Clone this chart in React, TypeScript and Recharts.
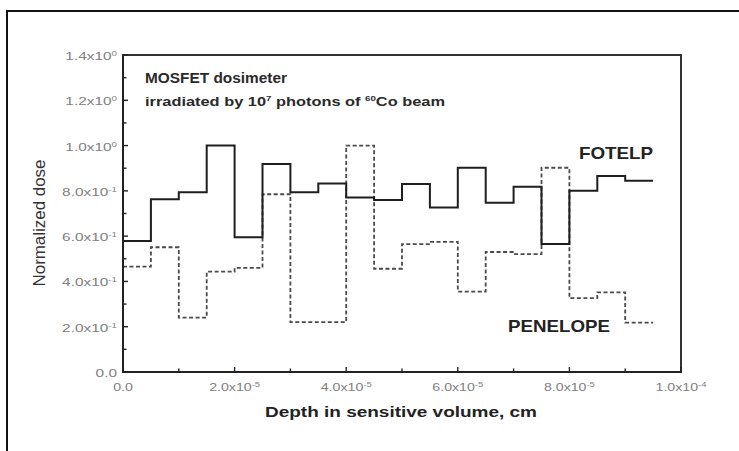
import React from "react";
import { LineChart, Line, XAxis, YAxis, ReferenceArea } from "recharts";

// Bin start depths (cm); the last entry closes the final bin
const depth = [
  0, 0.5e-5, 1.0e-5, 1.5e-5, 2.0e-5, 2.5e-5, 3.0e-5, 3.5e-5, 4.0e-5, 4.5e-5,
  5.0e-5, 5.5e-5, 6.0e-5, 6.5e-5, 7.0e-5, 7.5e-5, 8.0e-5, 8.5e-5, 9.0e-5, 9.5e-5,
];
const fotelp = [
  0.579, 0.763, 0.794, 1.0, 0.595, 0.919, 0.794, 0.832, 0.771, 0.76,
  0.83, 0.726, 0.902, 0.748, 0.818, 0.565, 0.801, 0.866, 0.845, 0.845,
];
const penelope = [
  0.465, 0.551, 0.24, 0.443, 0.46, 0.785, 0.22, 0.22, 1.0, 0.456,
  0.565, 0.575, 0.355, 0.53, 0.521, 0.902, 0.326, 0.352, 0.218, 0.218,
];

const xMajor = [0, 2e-5, 4e-5, 6e-5, 8e-5, 1e-4];
const xMinor = [1e-5, 3e-5, 5e-5, 7e-5, 9e-5];
const xTickBase = ["0.0", "2.0x10", "4.0x10", "6.0x10", "8.0x10", "1.0x10"];
const xTickExp = ["", "-5", "-5", "-5", "-5", "-4"];

const yMajor = [0, 0.2, 0.4, 0.6, 0.8, 1.0, 1.2, 1.4];
const yMinor = [0.1, 0.3, 0.5, 0.7, 0.9, 1.1, 1.3];
const yTickBase = ["0.0", "2.0x10", "4.0x10", "6.0x10", "8.0x10", "1.0x10", "1.2x10", "1.4x10"];
const yTickExp = ["", "-1", "-1", "-1", "-1", "0", "0", "0"];

const data = depth.map((d, i) => ({ x: d, fotelp: fotelp[i], penelope: penelope[i] }));

const FONT = "'Liberation Sans', Arial, Helvetica, sans-serif";
const AXIS = "#222";
const TICKTXT = "#808080";

const findIdx = (arr: number[], v: number) =>
  arr.findIndex((t) => Math.abs(t - v) < 1e-12 + Math.abs(t) * 1e-6);

const YTick = (props: any) => {
  const { x, y, payload } = props;
  const i = findIdx(yMajor, payload.value);
  const major = i >= 0;
  return (
    <g>
      <line x1={x} y1={y} x2={x + (major ? 5 : 3.5)} y2={y} stroke={AXIS} strokeWidth={1.4} />
      {major && (
        <g transform={`translate(${x - 6},${y + 5}) scale(1.4,1)`}>
          <text textAnchor="end" fontSize={11} fill={TICKTXT} fontFamily={FONT}>
            {yTickBase[i]}
            {yTickExp[i] && (
              <tspan fontSize={7} dy={-4}>
                {yTickExp[i]}
              </tspan>
            )}
          </text>
        </g>
      )}
    </g>
  );
};

const XTick = (props: any) => {
  const { x, y, payload } = props;
  const i = findIdx(xMajor, payload.value);
  const major = i >= 0;
  return (
    <g>
      <line x1={x} y1={y} x2={x} y2={y - (major ? 5 : 3.5)} stroke={AXIS} strokeWidth={1.4} />
      {major && (
        <g transform={`translate(${x},${y + 19}) scale(1.35,1)`}>
          <text textAnchor="middle" fontSize={10.5} fill={TICKTXT} fontFamily={FONT}>
            {xTickBase[i]}
            {xTickExp[i] && (
              <tspan fontSize={7} dy={-4}>
                {xTickExp[i]}
              </tspan>
            )}
          </text>
        </g>
      )}
    </g>
  );
};

export default function App() {
  return (
    <div
      style={{
        position: "fixed",
        left: 0,
        top: 0,
        width: 739,
        height: 451,
        background: "#fff",
        fontFamily: FONT,
      }}
    >
      <div
        style={{
          position: "absolute",
          left: 6,
          top: 10,
          width: 739,
          height: 451,
          borderTop: "2px solid #111",
          borderLeft: "2px solid #111",
        }}
      />
      <div style={{ position: "absolute", left: 0, top: 0 }}>
        <LineChart
          width={739}
          height={451}
          data={data}
          margin={{ top: 55, right: 58, bottom: 49, left: 63 }}
        >
          <ReferenceArea
            x1={0}
            x2={1e-4}
            y1={0}
            y2={1.4}
            fill="none"
            fillOpacity={0}
            stroke="#333"
            strokeOpacity={1}
            strokeWidth={2}
          />
          <XAxis
            dataKey="x"
            type="number"
            domain={[0, 1e-4]}
            ticks={[...xMajor, ...xMinor]}
            interval={0}
            tickSize={0}
            tickMargin={0}
            height={30}
            axisLine={{ stroke: AXIS, strokeWidth: 2 }}
            tickLine={false}
            tick={XTick}
          />
          <YAxis
            type="number"
            domain={[0, 1.4]}
            ticks={[...yMajor, ...yMinor]}
            interval={0}
            tickSize={0}
            tickMargin={0}
            width={60}
            axisLine={{ stroke: AXIS, strokeWidth: 2 }}
            tickLine={false}
            tick={YTick}
          />
          <Line
            type="stepAfter"
            dataKey="penelope"
            stroke="#4a4a4a"
            strokeWidth={1.8}
            strokeDasharray="4 2.5"
            dot={false}
            isAnimationActive={false}
          />
          <Line
            type="stepAfter"
            dataKey="fotelp"
            stroke="#1e1e1e"
            strokeWidth={2}
            dot={false}
            isAnimationActive={false}
          />
        </LineChart>
      </div>
      <svg
        width={739}
        height={451}
        style={{ position: "absolute", left: 0, top: 0, pointerEvents: "none" }}
        fontFamily={FONT}
      >
        <text x={145} y={83} fontSize={14.5} fontWeight="bold" fill="#2a2a2a" textLength={142} lengthAdjust="spacingAndGlyphs">
          MOSFET dosimeter
        </text>
        <text x={145} y={106} fontSize={13.5} fontWeight="bold" fill="#2a2a2a" textLength={300} lengthAdjust="spacingAndGlyphs">
          irradiated by 10<tspan fontSize={8} dy={-5}>7</tspan>
          <tspan dy={5}> photons of </tspan>
          <tspan fontSize={8} dy={-5}>60</tspan>
          <tspan dy={5}>Co beam</tspan>
        </text>
        <text x={579} y={159} fontSize={17} fontWeight="bold" fill="#222" textLength={74} lengthAdjust="spacingAndGlyphs">
          FOTELP
        </text>
        <text x={508} y={332} fontSize={17} fontWeight="bold" fill="#222" textLength={102} lengthAdjust="spacingAndGlyphs">
          PENELOPE
        </text>
        <text x={265} y={417} fontSize={14.5} fontWeight="bold" fill="#222" textLength={272} lengthAdjust="spacingAndGlyphs">
          Depth in sensitive volume, cm
        </text>
        <text
          x={0}
          y={0}
          transform="translate(45,223) rotate(-90)"
          textAnchor="middle"
          fontSize={16}
          fill="#333"
          textLength={127}
          lengthAdjust="spacingAndGlyphs"
        >
          Normalized dose
        </text>
      </svg>
    </div>
  );
}
